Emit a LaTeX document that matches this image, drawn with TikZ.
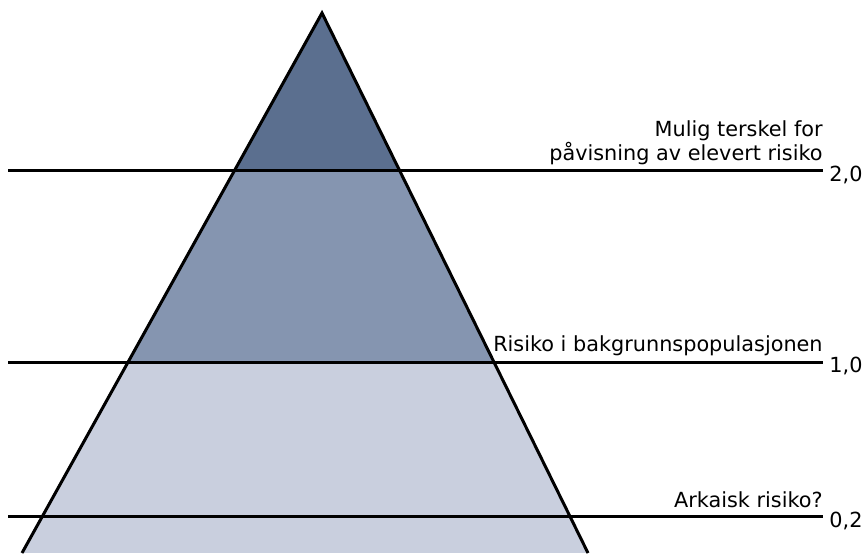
\documentclass[tikz,border=0pt]{standalone}
\usepackage{fontspec}
\setmainfont{DejaVu Sans}

\definecolor{topband}{RGB}{91,111,143}
\definecolor{midband}{RGB}{133,149,176}
\definecolor{lowband}{RGB}{201,207,222}

\begin{document}
\begin{tikzpicture}[x=0.5pt,y=-0.5pt,
    level/.style={line width=1.5pt},
    side/.style={line width=1.5pt,line join=miter},
    lbl/.style={anchor=base east,inner sep=0pt,font=\fontsize{10.4}{12.5}\selectfont},
    val/.style={anchor=base west,inner sep=0pt,font=\fontsize{10.4}{12.5}\selectfont}]

  \useasboundingbox (0,0) rectangle (866,553);

  \coordinate (apex) at (322,13);
  \coordinate (baseL) at (22,553);
  \coordinate (baseR) at (588,553);

  % bands of the pyramid
  \begin{scope}
    \clip (apex) -- (baseL) -- (baseR) -- cycle;
    \fill[topband] (0,0) rectangle (866,170);
    \fill[midband] (0,170) rectangle (866,362);
    \fill[lowband] (0,362) rectangle (866,553);
  \end{scope}
  \draw[side] (baseL) -- (apex) -- (baseR);

  % thresholds
  \coordinate (high1) at (8,170);
  \coordinate (high2) at (823,170);
  \coordinate (back1) at (8,362);
  \coordinate (back2) at (823,362);
  \coordinate (arch1) at (8,516);
  \coordinate (arch2) at (823,516);

  \draw[level] (high1) -- (high2);
  \draw[level] (back1) -- (back2);
  \draw[level] (arch1) -- (arch2);

  \node[lbl] (highA) at (823,136) {Mulig terskel for};
  \node[lbl] (highB) at (823,160) {påvisning av elevert risiko};
  \node[lbl] (back) at (823,351) {Risiko i bakgrunnspopulasjonen};
  \node[lbl] (arch) at (823,507) {Arkaisk risiko?};

  \node[val] (highV) at (829,181) {2,0};
  \node[val] (backV) at (829,372) {1,0};
  \node[val] (archV) at (829,527) {0,2};

\end{tikzpicture}
\end{document}
